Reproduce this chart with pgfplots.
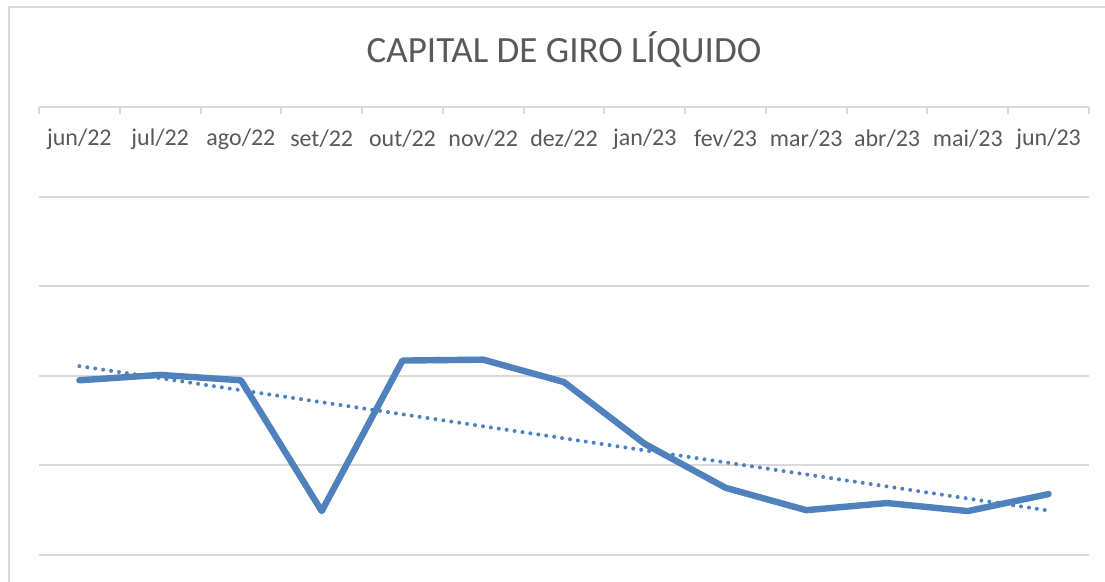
\documentclass[border=0pt]{standalone}
\usepackage{fontspec}
\setmainfont{Carlito}
\usepackage{pgfplots}
\pgfplotsset{compat=1.18}
\definecolor{serie}{HTML}{4F81BD}
\definecolor{gridc}{HTML}{D9D9D9}
\definecolor{txt}{HTML}{595959}
\begin{document}
\begin{tikzpicture}
\path[use as bounding box] (0,0) rectangle (552.5pt,-291pt);
\draw[gridc, line width=1pt] (4.5pt,-300pt) -- (4.5pt,-3.5pt) -- (560pt,-3.5pt);
\begin{axis}[
  at={(19.5pt,-53.5pt)}, anchor=north west,
  scale only axis, width=525pt, height=224pt,
  xmin=0.5, xmax=13.5, ymin=-5, ymax=0,
  axis x line=top, axis y line=left,
  x axis line style={gridc, line width=1pt, -},
  y axis line style={draw=none},
  tick align=inside,
  xtick={1,...,13},
  xticklabels={jun/22,jul/22,ago/22,set/22,out/22,nov/22,dez/22,jan/23,fev/23,mar/23,abr/23,mai/23,jun/23},
  xtick style={draw=none},
  xticklabel style={anchor=center, yshift=-16pt, font=\fontsize{12}{14}\selectfont, text=txt},
  extra x ticks={0.5,1.5,...,13.5},
  extra x tick labels={},
  extra x tick style={xtick style={draw=gridc, line width=1pt}, major tick length=3.5pt},
  ytick={-5,-4,-3,-2,-1},
  yticklabels={},
  ytick style={draw=none},
  ymajorgrids,
  y grid style={gridc, line width=1pt},
  clip=false,
  title={CAPITAL DE GIRO LÍQUIDO},
  title style={at={(0.5,1)}, anchor=center, yshift=22.5pt, font=\fontsize{18.5}{22}\selectfont, text=txt},
]
\addplot[serie, line width=3.2pt, line cap=round, line join=round] coordinates {
(1,-3.05) (2,-2.99) (3,-3.05) (4,-4.51) (5,-2.83) (6,-2.82) (7,-3.07)
(8,-3.76) (9,-4.25) (10,-4.50) (11,-4.42) (12,-4.51) (13,-4.32)};
\addplot[serie, line width=2pt, line cap=round, dash pattern=on 0pt off 4pt] coordinates {
(1,-2.892) (13,-4.504)};
\end{axis}
\end{tikzpicture}
\end{document}
